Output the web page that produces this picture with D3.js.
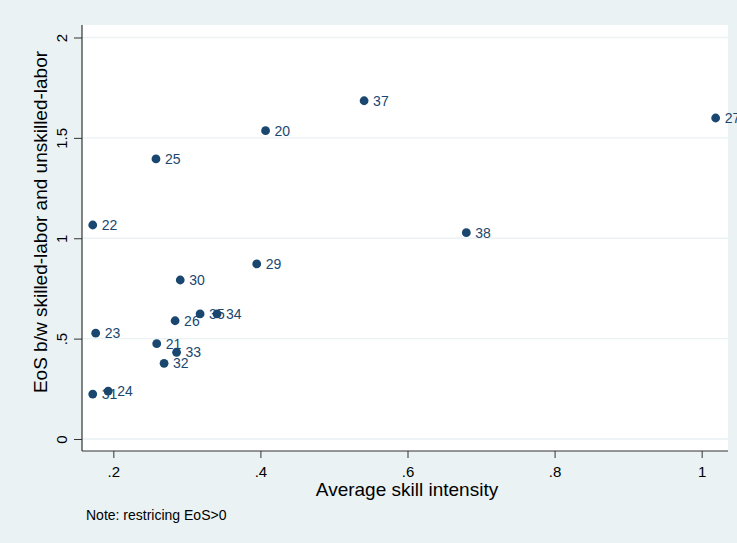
<!DOCTYPE html>
<html>
<head>
<meta charset="utf-8">
<script src="https://cdn.jsdelivr.net/npm/d3@7"></script>
<style>
  html, body { margin: 0; padding: 0; background: #eaf2f3; }
  svg { display: block; }
  text { font-family: "Liberation Sans", Arial, Helvetica, sans-serif; }
</style>
</head>
<body>
<svg id="chart" width="737" height="543"></svg>
<script>
// Data
const labels = ["20","21","22","23","24","25","26","27","29","30","31","32","33","35","34","37","38"];
const skill  = [0.407,0.259,0.172,0.176,0.193,0.258,0.284,1.019,0.395,0.291,0.172,0.269,0.286,0.318,0.341,0.541,0.680];
const eos    = [1.536,0.475,1.066,0.527,0.238,1.395,0.589,1.599,0.872,0.792,0.224,0.377,0.432,0.623,0.623,1.685,1.028];
const xTicks = [0.2,0.4,0.6,0.8,1];
const xTickLabels = [".2",".4",".6",".8","1"];
const yTicks = [0,0.5,1,1.5,2];
const yTickLabels = ["0",".5","1","1.5","2"];

const W = 737, H = 543;
const plot = {left: 82, right: 728, top: 25, bottom: 451};
const navy = "#1a476f";

const svg = d3.select("#chart");
svg.append("rect").attr("width", W).attr("height", H).attr("fill", "#eaf2f3");
svg.append("rect")
  .attr("x", plot.left).attr("y", plot.top)
  .attr("width", plot.right - plot.left).attr("height", plot.bottom - plot.top)
  .attr("fill", "#ffffff");

const x = d3.scaleLinear().domain([0.1574, 1.0358]).range([plot.left, plot.right]);
const y = d3.scaleLinear().domain([-0.0598, 2.0623]).range([plot.bottom, plot.top]);

// gridlines
svg.append("g").selectAll("line").data(yTicks).join("line")
  .attr("x1", plot.left).attr("x2", plot.right)
  .attr("y1", d => y(d)).attr("y2", d => y(d))
  .attr("stroke", "#eaf2f3").attr("stroke-width", 1.3);

// axes
const yAxis = d3.axisLeft(y).tickValues(yTicks).tickFormat((d, i) => yTickLabels[i]).tickSize(8).tickPadding(4);
const gy = svg.append("g").attr("transform", `translate(${plot.left},0)`).call(yAxis);
gy.select(".domain").attr("d", `M0,${plot.top}V${plot.bottom}`).attr("stroke", "#333").attr("stroke-width", 1.2);
gy.selectAll(".tick line").attr("stroke", "#333");
gy.selectAll(".tick text")
  .attr("font-size", 15).attr("fill", "#000")
  .attr("x", null).attr("dy", null)
  .attr("text-anchor", "middle")
  .attr("transform", "translate(-15,0) rotate(-90)");

const xAxis = d3.axisBottom(x).tickValues(xTicks).tickFormat((d, i) => xTickLabels[i]).tickSize(7).tickPadding(5);
const gx = svg.append("g").attr("transform", `translate(0,${plot.bottom})`).call(xAxis);
gx.select(".domain").attr("d", `M${plot.left},0H${plot.right}`).attr("stroke", "#333").attr("stroke-width", 1.2);
gx.selectAll(".tick line").attr("stroke", "#333");
gx.selectAll(".tick text").attr("font-size", 15).attr("fill", "#000").attr("dy", "0.95em");

// axis titles
svg.append("text")
  .attr("x", 407).attr("y", 496)
  .attr("text-anchor", "middle").attr("font-size", 19).attr("fill", "#000")
  .text("Average skill intensity");
svg.append("text")
  .attr("transform", `translate(47,222) rotate(-90)`)
  .attr("text-anchor", "middle").attr("font-size", 19).attr("fill", "#000")
  .text("EoS b/w skilled-labor and unskilled-labor");

// note
svg.append("text")
  .attr("x", 86).attr("y", 520)
  .attr("font-size", 14).attr("fill", "#000")
  .text("Note: restricing EoS>0");

const pts = labels.map((l, i) => ({label: l, sx: skill[i], ey: eos[i]}));

// marker labels (drawn first so markers overlap them)
svg.append("g").selectAll("text").data(pts).join("text")
  .attr("x", d => x(d.sx) + 9).attr("y", d => y(d.ey))
  .attr("dy", "0.36em")
  .attr("font-size", 14).attr("fill", navy)
  .text(d => d.label);

// markers
svg.append("g").selectAll("circle").data(pts).join("circle")
  .attr("cx", d => x(d.sx)).attr("cy", d => y(d.ey))
  .attr("r", 4.4).attr("fill", navy);
</script>
</body>
</html>
